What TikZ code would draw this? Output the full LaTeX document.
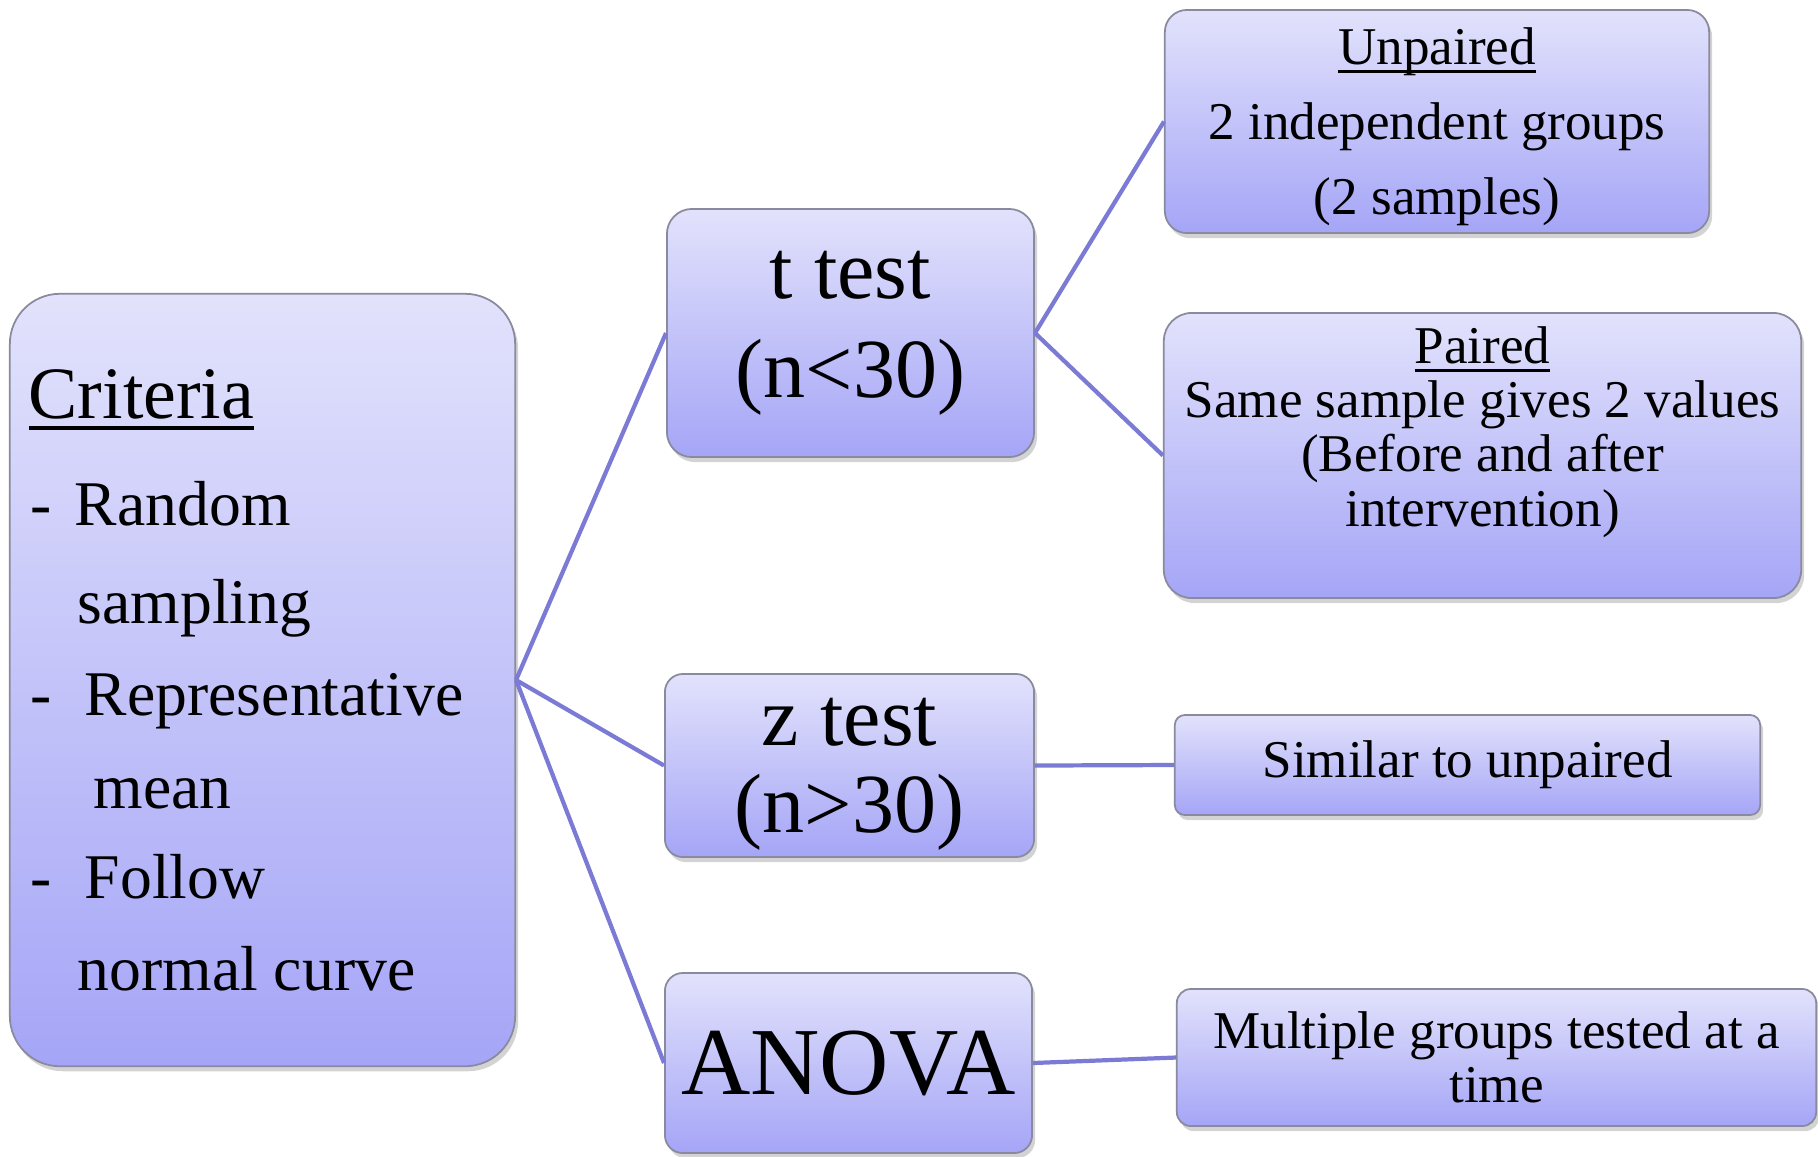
\documentclass[tikz,border=0pt]{standalone}
\usepackage{fontspec}
\setmainfont{Liberation Serif}
\usepackage{calc}
\usetikzlibrary{shadows,positioning}
\definecolor{lavtop}{RGB}{226,226,252}
\definecolor{lavbot}{RGB}{165,165,247}
\definecolor{lavline}{RGB}{123,123,214}
\definecolor{boxedge}{RGB}{138,138,158}
\newcommand{\fsz}[2]{\fontsize{#1}{#2}\selectfont}
\newcommand{\undl}[1]{\leavevmode\rlap{\rule[-0.16em]{\widthof{#1}}{0.05em}}#1}
\tikzset{
  lavbox/.style={draw=boxedge, line width=0.5pt, top color=lavtop, bottom color=lavbot,
    inner sep=0pt, align=center,
    drop shadow={shadow xshift=0.03cm, shadow yshift=-0.05cm, opacity=0.35}},
  link/.style={draw=lavline, line width=1.2pt},
  crittxt/.style={anchor=base west, inner sep=0pt, font=\fsz{18.1pt}{22pt}},
  smalltxt/.style={font=\fsz{15.1pt}{15.4pt}},
}

\begin{document}
\begin{tikzpicture}[x=0.01cm,y=-0.01cm]
	\useasboundingbox (0,0) rectangle (1818,1156);
	% left column
	\node[lavbox, minimum width=5.05cm, minimum height=7.72cm, rounded corners=0.5cm] (crit) at (262.5,680) {};
	\node[crittxt, font=\fsz{21pt}{24pt}] (crithead) at (28,418) {\undl{Criteria}};
	\node[crittxt] (crit1) at (30,525) {-\hspace{0.36em}Random};
	\node[crittxt] (crit2) at (77,623) {sampling};
	\node[crittxt] (crit3) at (30,715) {-\hspace{0.52em}Representative};
	\node[crittxt] (crit4) at (93,808) {mean};
	\node[crittxt] (crit5) at (30,898) {-\hspace{0.52em}Follow};
	\node[crittxt] (crit6) at (77,990) {normal curve};
	% middle column
	\node[lavbox, minimum width=3.67cm, minimum height=2.48cm, rounded corners=0.25cm, font=\fsz{23.9pt}{28.2pt}] (ttest) at (850.5,333) {t test\\(n<30)};
	\node[lavbox, minimum width=3.69cm, minimum height=1.83cm, rounded corners=0.18cm] (ztest) at (849.5,765.5) {};
	\node[inner sep=0pt, align=center, anchor=north, font=\fsz{23.9pt}{25pt}] (ztesttxt) at (849.5,697) {z test\\(n>30)};
	\node[lavbox, minimum width=3.67cm, minimum height=1.80cm, rounded corners=0.18cm, font=\fsz{27.3pt}{30pt}] (anova) at (848.5,1063) {ANOVA};
	% right column
	\node[lavbox, minimum width=5.44cm, minimum height=2.23cm, rounded corners=0.22cm] (unpaired) at (1437,121.5) {};
	\node[inner sep=0pt, align=center, anchor=north, font=\fsz{15.1pt}{21.3pt}] (unpairedtxt) at (1437,27) {\undl{Unpaired}\\2 independent groups\\(2 samples)};
	\node[lavbox, minimum width=6.37cm, minimum height=2.85cm, rounded corners=0.28cm] (paired) at (1482.5,455.5) {};
	\node[smalltxt, inner sep=0pt, align=center, anchor=north] (pairedtxt) at (1482.5,326) {\undl{Paired}\\Same sample gives 2 values\\(Before and after\\intervention)};
	\node[lavbox, smalltxt, minimum width=5.85cm, minimum height=1.00cm, rounded corners=0.1cm] (similar) at (1467.5,765) {Similar to unpaired};
	\node[lavbox, smalltxt, minimum width=6.39cm, minimum height=1.37cm, rounded corners=0.14cm] (multi) at (1496.5,1057.5) {Multiple groups tested at a\\time};
	% links
	\draw[link] (crit.east) -- (ttest.west);
	\draw[link] (crit.east) -- (ztest.west);
	\draw[link] (crit.east) -- (anova.west);
	\draw[link] (ttest.east) -- (unpaired.west);
	\draw[link] (ttest.east) -- (paired.west);
	\draw[link] (ztest.east) -- (similar.west);
	\draw[link] (anova.east) -- (multi.west);
\end{tikzpicture}
\end{document}
